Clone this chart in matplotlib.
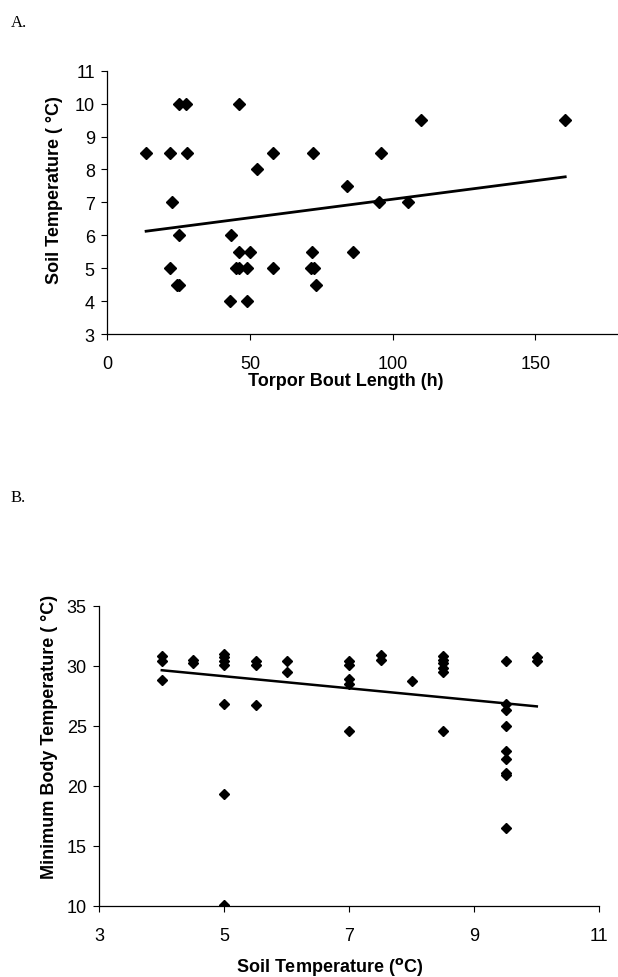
import matplotlib
matplotlib.use("Agg")
import matplotlib.pyplot as plt
import numpy as np

# panel A: torpor bout length (h) vs soil temperature (C)
bout_h = [13.6, 22.0, 27.8, 25.0, 27.5, 46.0, 22.6, 25.2, 22.0, 24.3, 25.0,
          43.0, 48.8, 43.2, 46.3, 50.0, 45.1, 46.3, 48.8, 58.0, 52.3, 58.2,
          72.2, 71.7, 71.5, 72.3, 73.0, 84.1, 86.0, 95.8, 95.3, 105.5, 110.0, 160.5]
soil_a = [8.5, 8.5, 8.5, 10, 10, 10, 7, 6, 5, 4.5, 4.5,
          4, 4, 6, 5.5, 5.5, 5, 5, 5, 8.5, 8, 5,
          8.5, 5.5, 5, 5, 4.5, 7.5, 5.5, 8.5, 7, 7, 9.5, 9.5]
fit_a = (0.01125, 5.97)  # slope, intercept

# panel B: soil temperature (C) vs minimum body temperature (C)
soil_b = [4, 4, 4,
          4.5, 4.5,
          5, 5, 5, 5, 5, 5, 5,
          5.5, 5.5, 5.5,
          6, 6,
          7, 7, 7, 7, 7,
          7.5, 7.5,
          8,
          8.5, 8.5, 8.5, 8.5, 8.5, 8.5,
          9.5, 9.5, 9.5, 9.5, 9.5, 9.5, 9.5, 9.5, 9.5,
          10, 10]
tb_min = [30.8, 30.4, 28.8,
          30.5, 30.2,
          31.0, 30.7, 30.4, 30.1, 26.8, 19.3, 10.1,
          30.4, 30.1, 26.7,
          30.4, 29.5,
          30.4, 30.1, 28.9, 28.5, 24.6,
          30.9, 30.5,
          28.7,
          30.8, 30.5, 30.2, 29.8, 29.5, 24.6,
          30.4, 26.8, 26.3, 25.0, 22.9, 22.2, 21.1, 20.9, 16.5,
          30.7, 30.4]
fit_b = (-0.502, 31.63)

W, H = 618, 978
fig = plt.figure(figsize=(W / 100, H / 100), dpi=100)
plt.rcParams["font.family"] = ["Liberation Sans", "DejaVu Sans"]


def box(l, t, r, b):
    return [l / W, 1 - b / H, (r - l) / W, (b - t) / H]


def style(ax):
    for s in ("top", "right"):
        ax.spines[s].set_visible(False)
    for s in ("left", "bottom"):
        ax.spines[s].set_linewidth(0.9)
    ax.tick_params(axis="both", labelsize=13, length=4, width=0.8)
    ax.tick_params(axis="x", pad=11)
    ax.tick_params(axis="y", pad=5)


# ---- panel A
axA = fig.add_axes(box(107.3, 71.7, 618, 335))
axA.plot(bout_h, soil_a, "D", color="black", ms=6.5, mec="black")
xa = np.array([min(bout_h), max(bout_h)])
axA.plot(xa, fit_a[0] * xa + fit_a[1], color="black", lw=2)
axA.set_xlim(0, 179)
axA.set_ylim(3, 11)
axA.set_xticks([0, 50, 100, 150])
axA.set_yticks(range(3, 12))
style(axA)

# ---- panel B
axB = fig.add_axes(box(99.3, 606.7, 599.3, 906.7))
axB.plot(soil_b, tb_min, "D", color="black", ms=5, mec="black")
xb = np.array([min(soil_b), max(soil_b)])
axB.plot(xb, fit_b[0] * xb + fit_b[1], color="black", lw=1.8)
axB.set_xlim(3, 11)
axB.set_ylim(10, 35)
axB.set_xticks([3, 5, 7, 9, 11])
axB.set_yticks([10, 15, 20, 25, 30, 35])
style(axB)

# labels (positions in pixels)
def ftext(x, y, s, **kw):
    fig.text(x / W, 1 - y / H, s, **kw)

lab = dict(fontsize=13, fontweight="bold", ha="center", va="center")
ftext(346, 382, "Torpor Bout Length (h)", **lab)
ftext(55, 190, "Soil Temperature ( \u00b0C)", rotation=90, **lab)
ftext(330, 967, "Soil Temperature ($\\mathbf{^{o}}$C)", **lab)
ftext(50, 737, "Minimum Body Temperature ( \u00b0C)", rotation=90, **lab)

serif = dict(fontsize=12, family="Liberation Serif", ha="left", va="center")
ftext(11, 23, "A.", **serif)
ftext(11, 498, "B.", **serif)

fig.savefig("out.png", dpi=100)
